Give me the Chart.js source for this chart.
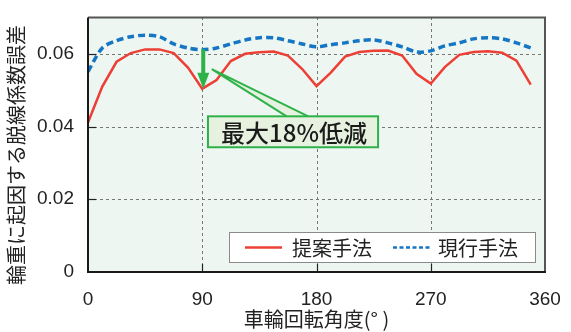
<!DOCTYPE html>
<html>
<head>
<meta charset="utf-8">
<script src="https://cdn.jsdelivr.net/npm/chart.js@4"></script>
<style>
  html, body { margin: 0; padding: 0; background: #ffffff; }
  #wrap { width: 571px; height: 332px; position: relative; }
</style>
</head>
<body>
<div id="wrap"><canvas id="errChart"></canvas></div>
<script>
// wheel rotation angle (deg), 32 samples per revolution
const angles = [0, 11.25, 22.5, 33.75, 45, 56.25, 67.5, 78.75,
  90, 101.25, 112.5, 123.75, 135, 146.25, 157.5, 168.75,
  180, 191.25, 202.5, 213.75, 225, 236.25, 247.5, 258.75,
  270, 281.25, 292.5, 303.75, 315, 326.25, 337.5, 348.75];

const proposed = [0.0411, 0.0510, 0.0578, 0.0602, 0.0612, 0.0612, 0.0602, 0.0562,
  0.0504, 0.0528, 0.0580, 0.0600, 0.0604, 0.0606, 0.0595, 0.0558,
  0.0511, 0.0548, 0.0592, 0.0605, 0.0608, 0.0609, 0.0595, 0.0545,
  0.0518, 0.0564, 0.0597, 0.0605, 0.0607, 0.0603, 0.0581, 0.0515];

const current = [0.0551, 0.0616, 0.0636, 0.0647, 0.0651, 0.0647, 0.0627, 0.0616,
  0.0611, 0.0616, 0.0627, 0.0638, 0.0644, 0.0644, 0.0636, 0.0627,
  0.0619, 0.0625, 0.0630, 0.0636, 0.0638, 0.0630, 0.0619, 0.0605,
  0.0608, 0.0622, 0.0630, 0.0641, 0.0644, 0.0641, 0.0630, 0.0616];

const xTicks = [0, 90, 180, 270, 360];
const yTicks = [0, 0.02, 0.04, 0.06];

const seriesNames = ['提案手法', '現行手法'];
const xTitle = '車輪回転角度(° )';
const yTitle = '輪重に起因する脱線係数誤差';
const calloutText = '最大18%低減';

const RED = '#ec3f35';
const BLUE = '#1576c4';
const GREEN = '#2db24a';
const TXT = '#222222';
const LATIN = '"Liberation Sans", Arial, "Noto Sans CJK JP", sans-serif';
const CJK = '"Noto Sans CJK JP", "Liberation Sans", sans-serif';

const decor = {
  id: 'decor',
  beforeDatasetsDraw(chart) {
    const { ctx, chartArea: a, scales: { x, y } } = chart;
    ctx.save();
    ctx.fillStyle = '#eef6f1';
    ctx.fillRect(a.left, a.top, a.right - a.left, a.bottom - a.top);

    // dashed grid
    ctx.strokeStyle = '#777';
    ctx.lineWidth = 1;
    ctx.setLineDash([3, 3]);
    xTicks.forEach(v => {
      if (v === 0 || v === 360) return;
      const px = Math.round(x.getPixelForValue(v)) + 0.5;
      ctx.beginPath(); ctx.moveTo(px, a.bottom); ctx.lineTo(px, a.top); ctx.stroke();
    });
    yTicks.forEach(v => {
      if (v === 0) return;
      const py = Math.round(y.getPixelForValue(v)) + 0.5;
      ctx.beginPath(); ctx.moveTo(a.left, py); ctx.lineTo(a.right, py); ctx.stroke();
    });
    ctx.restore();
  },
  afterDatasetsDraw(chart) {
    const { ctx, chartArea: a, scales: { x, y } } = chart;
    ctx.save();

    // inward tick marks
    ctx.strokeStyle = '#222';
    ctx.lineWidth = 1.2;
    yTicks.forEach(v => {
      if (v === 0) return;
      const py = Math.round(y.getPixelForValue(v)) + 0.5;
      ctx.beginPath(); ctx.moveTo(a.left, py); ctx.lineTo(a.left + 8, py); ctx.stroke();
    });
    xTicks.forEach(v => {
      if (v === 0 || v === 360) return;
      const px = Math.round(x.getPixelForValue(v)) + 0.5;
      ctx.beginPath(); ctx.moveTo(px, a.bottom); ctx.lineTo(px, a.bottom - 8); ctx.stroke();
    });

    // frame
    ctx.lineWidth = 2;
    ctx.strokeStyle = '#555';
    ctx.beginPath();
    ctx.moveTo(a.left, a.top); ctx.lineTo(a.right, a.top); ctx.lineTo(a.right, a.bottom);
    ctx.stroke();
    ctx.strokeStyle = '#1a1a1a';
    ctx.beginPath();
    ctx.moveTo(a.left, a.top); ctx.lineTo(a.left, a.bottom); ctx.lineTo(a.right + 1, a.bottom);
    ctx.stroke();

    // green arrow at 90 deg
    const ax = x.getPixelForValue(90) + 1;
    const aTop = y.getPixelForValue(0.0612);
    const aTip = y.getPixelForValue(0.0504);
    ctx.fillStyle = GREEN;
    ctx.fillRect(ax - 2, aTop, 4, aTip - aTop - 14);
    ctx.beginPath();
    ctx.moveTo(ax - 6, aTip - 16); ctx.lineTo(ax + 6, aTip - 16); ctx.lineTo(ax, aTip);
    ctx.closePath(); ctx.fill();

    // callout box with wedge
    const bx0 = x.getPixelForValue(94.5), bx1 = x.getPixelForValue(228.5);
    const by0 = y.getPixelForValue(0.0428), by1 = y.getPixelForValue(0.0343);
    const tipX = x.getPixelForValue(97.5), tipY = y.getPixelForValue(0.0558);
    const w0 = x.getPixelForValue(156.5), w1 = x.getPixelForValue(173.5);
    ctx.fillStyle = '#e6f2df';
    ctx.strokeStyle = GREEN;
    ctx.lineWidth = 2;
    ctx.beginPath();
    ctx.moveTo(w0, by0 + 1); ctx.lineTo(tipX, tipY); ctx.lineTo(w1, by0 + 1);
    ctx.closePath(); ctx.fill();
    ctx.beginPath();
    ctx.moveTo(w0, by0); ctx.lineTo(tipX, tipY); ctx.lineTo(w1, by0);
    ctx.stroke();
    ctx.fillRect(bx0, by0, bx1 - bx0, by1 - by0);
    ctx.strokeRect(bx0, by0, bx1 - bx0, by1 - by0);
    ctx.fillStyle = '#1a1a1a';
    ctx.font = '500 24px ' + CJK;
    ctx.textAlign = 'center';
    ctx.textBaseline = 'middle';
    ctx.fillText(calloutText, (bx0 + bx1) / 2 + 1, (by0 + by1) / 2 + 1);

    // legend box
    const lx = 229, ly = 232, lw = 306, lh = 30;
    ctx.fillStyle = '#ffffff';
    ctx.fillRect(lx, ly, lw, lh);
    ctx.strokeStyle = '#8a8a8a';
    ctx.lineWidth = 1;
    ctx.strokeRect(lx + 0.5, ly + 0.5, lw, lh);
    const my = ly + lh / 2 + 0.5;
    ctx.lineWidth = 2.5;
    ctx.strokeStyle = RED;
    ctx.beginPath(); ctx.moveTo(245, my); ctx.lineTo(282, my); ctx.stroke();
    ctx.strokeStyle = BLUE;
    ctx.setLineDash([4, 2.5]);
    ctx.beginPath(); ctx.moveTo(393, my); ctx.lineTo(430, my); ctx.stroke();
    ctx.setLineDash([]);
    ctx.fillStyle = TXT;
    ctx.font = '20px ' + CJK;
    ctx.textAlign = 'left';
    ctx.fillText(seriesNames[0], 292, my + 1);
    ctx.fillText(seriesNames[1], 438, my + 1);

    ctx.restore();
  },
  afterDraw(chart) {
    const { ctx, chartArea: a } = chart;
    ctx.save();
    ctx.fillStyle = TXT;
    ctx.textAlign = 'center';
    ctx.textBaseline = 'middle';
    ctx.font = '20px ' + CJK;
    ctx.fillText(xTitle, (a.left + a.right) / 2, 319);
    ctx.translate(16, 155);
    ctx.rotate(-Math.PI / 2);
    ctx.font = '20px ' + CJK;
    ctx.fillText(yTitle, 0, 0);
    ctx.restore();
  }
};

new Chart(document.getElementById('errChart'), {
  type: 'line',
  data: {
    datasets: [
      {
        label: seriesNames[0],
        data: angles.map((a, i) => ({ x: a, y: proposed[i] })),
        borderColor: RED,
        borderWidth: 2.5,
        pointRadius: 0,
        tension: 0,
        fill: false
      },
      {
        label: seriesNames[1],
        data: angles.map((a, i) => ({ x: a, y: current[i] })),
        borderColor: BLUE,
        borderWidth: 3.5,
        borderDash: [7, 4],
        pointRadius: 0,
        tension: 0.3,
        fill: false
      }
    ]
  },
  options: {
    responsive: true,
    maintainAspectRatio: false,
    animation: false,
    layout: { padding: { left: 0, right: 26, top: 17, bottom: 0 } },
    plugins: { legend: { display: false }, tooltip: { enabled: false } },
    scales: {
      x: {
        type: 'linear',
        min: 0, max: 360,
        afterFit: s => { s.height = 60; },
        afterBuildTicks: s => { s.ticks = xTicks.map(v => ({ value: v })); },
        border: { display: false },
        grid: { display: false },
        ticks: { color: TXT, padding: 8, font: { family: LATIN, size: 19 }, maxRotation: 0 }
      },
      y: {
        min: 0, max: 0.07,
        afterFit: s => { s.width = 88; },
        afterBuildTicks: s => { s.ticks = yTicks.map(v => ({ value: v })); },
        border: { display: false },
        grid: { display: false },
        ticks: {
          color: TXT, padding: 6, font: { family: LATIN, size: 19 },
          callback: v => v === 0 ? '0' : v.toFixed(2)
        }
      }
    }
  },
  plugins: [decor]
});
</script>
</body>
</html>
